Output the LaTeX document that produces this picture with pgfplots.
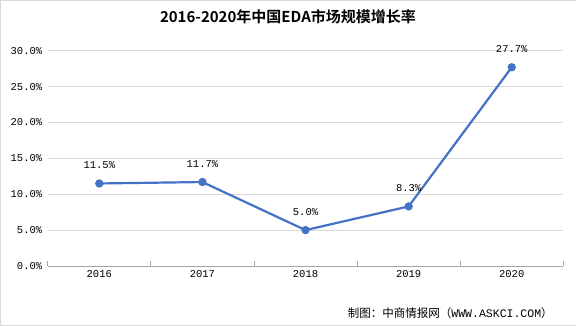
\documentclass[border=0pt]{standalone}
\usepackage{fontspec}
\setmainfont{Liberation Mono}
\newfontfamily\cjk{Noto Sans CJK SC}
\newfontfamily\cjkb{Noto Sans CJK SC Bold}
\usepackage{pgfplots}
\pgfplotsset{compat=1.18}
\definecolor{lineblue}{HTML}{4472C4}
\definecolor{gridgray}{HTML}{D9D9D9}
\begin{document}
\begin{tikzpicture}[x=1pt,y=1pt]
\path[draw=gridgray, fill=white] (0.5,0.5) rectangle (575.5,325.5);
\begin{axis}[
  at={(48pt,60pt)}, anchor=south west,
  width=515pt, height=215pt, scale only axis,
  xmin=-0.5, xmax=4.5, ymin=0, ymax=30,
  xtick={0,1,2,3,4}, xticklabels={2016,2017,2018,2019,2020},
  extra x ticks={-0.5,0.5,1.5,2.5,3.5,4.5}, extra x tick labels={},
  extra x tick style={grid=none, major tick length=5pt, tick style={draw=gray!70, line width=0.8pt}},
  major tick length=0pt,
  ytick={0,5,10,15,20,25,30},
  yticklabel={\pgfmathprintnumber[fixed,fixed zerofill,precision=1]{\tick}\%},
  /pgf/number format/assume math mode=true,
  ymajorgrids, grid style={gridgray, line width=0.8pt},
  axis x line*=bottom, axis y line*=left,
  x axis line style={draw=gray!70, line width=0.8pt, -},
  y axis line style={draw=none},
  tick label style={font=\fontsize{10.5}{12}\selectfont, text=black},
  yticklabel style={xshift=-2pt},
  xticklabel style={yshift=-1pt},
  clip=false,
  nodes near coords={\pgfmathprintnumber[fixed,fixed zerofill,precision=1]{\pgfplotspointmeta}\%},
  nodes near coords style={font=\fontsize{10.5}{12}\selectfont, text=black, yshift=10pt},
]
\addplot[color=lineblue, line width=2.2pt, mark=*, mark size=3pt, mark options={fill=lineblue, draw=lineblue}]
  coordinates {(0,11.5) (1,11.7) (2,5.0) (3,8.3) (4,27.7)};
\end{axis}
\node[font=\cjkb\fontsize{15}{17}\selectfont] at (288,309) {2016-2020年中国EDA市场规模增长率};
\node[anchor=east, font=\fontsize{11.5}{13}\selectfont] at (556,13) {{\cjk 制图：中商情报网（}WWW.ASKCI.COM{\cjk ）}};
\end{tikzpicture}
\end{document}
